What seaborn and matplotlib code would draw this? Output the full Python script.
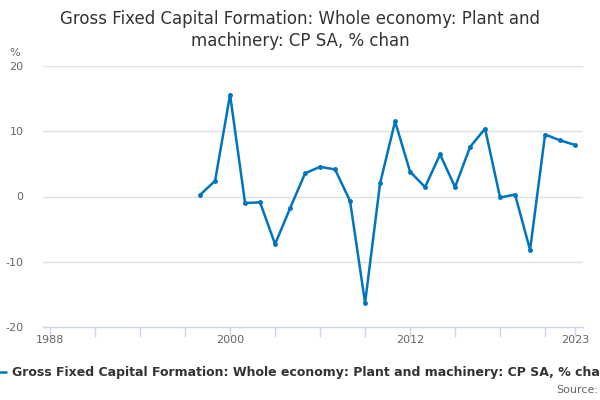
import matplotlib
matplotlib.use("Agg")
import matplotlib.pyplot as plt
import seaborn as sns
import pandas as pd

years = list(range(1998, 2024))
values = [0.25, 2.4, 15.6, -1.0, -0.9, -7.3, -1.8, 3.55, 4.55, 4.15, -0.7, -16.3,
          2.0, 11.5, 3.8, 1.45, 6.45, 1.45, 7.6, 10.4, -0.15, 0.3, -8.2, 9.5, 8.6, 7.9]
series_name = "Gross Fixed Capital Formation: Whole economy: Plant and machinery: CP SA, % change"
title = "Gross Fixed Capital Formation: Whole economy: Plant and\nmachinery: CP SA, % chan"
tick_years = list(range(1988, 2022, 3)) + [2023]
label_years = [1988, 2000, 2012, 2023]
y_ticks = [-20, -10, 0, 10, 20]

df = pd.DataFrame({"year": years, "value": values, "series": series_name})

sns.set_theme(style="white")
plt.rcParams['font.family'] = ['DejaVu Sans']

fig = plt.figure(figsize=(6, 4), dpi=100)
ax = fig.add_axes([0.0717, 0.1825, 0.9, 0.6525])

line_color = "#0075bf"
sns.lineplot(data=df, x="year", y="value", hue="series", palette=[line_color],
             marker="o", markersize=3.5, markeredgewidth=0, linewidth=1.8, ax=ax)

ax.set_xlim(1987.53, 2023.53)
ax.set_ylim(-20, 20)
ax.set_yticks(y_ticks)
ax.set_yticklabels([str(v) for v in y_ticks])
ax.set_xticks(tick_years)
ax.set_xticklabels([str(y) if y in label_years else "" for y in tick_years])
ax.yaxis.grid(True, color="#e0e0e0", linewidth=1)
ax.xaxis.grid(False)
for s in ["top", "right", "left"]:
    ax.spines[s].set_visible(False)
ax.spines["bottom"].set_color("#ccd6eb")
ax.spines["bottom"].set_linewidth(1)
ax.tick_params(axis="x", length=7, width=1, color="#ccd6eb", labelsize=8, labelcolor="#666666", pad=-1, direction="out", bottom=True)
ax.tick_params(axis="y", length=0, labelsize=8, labelcolor="#666666", pad=14)
ax.set_xlabel("")
ax.set_ylabel("")
ax.set_axisbelow(True)

handles, labels = ax.get_legend_handles_labels()
ax.get_legend().remove()
fig.legend(handles, labels, loc="center left", bbox_to_anchor=(-0.042, 0.068), frameon=False,
           prop={"weight": "bold", "size": 9.0}, handlelength=1.6, handletextpad=0.5,
           labelcolor="#333333")

fig.text(0.5, 0.925, title, ha="center", va="center", fontsize=12, color="#333333", linespacing=1.3)
fig.text(0.015, 0.868, "%", ha="left", va="center", fontsize=8, color="#666666")
fig.text(0.997, 0.025, "Source:", ha="right", va="center", fontsize=8, color="#666666")

fig.savefig("out.png", dpi=100)
